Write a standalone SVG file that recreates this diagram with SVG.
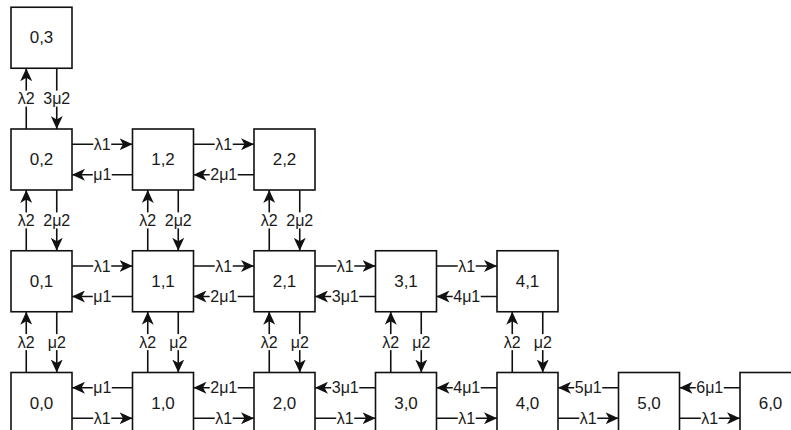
<svg xmlns="http://www.w3.org/2000/svg" width="791" height="430" viewBox="0 0 791 430">
  <style>
    .node rect { fill: #ffffff; stroke: #111111; stroke-width: 1.6; }
    .node text { font-family: "Liberation Sans", Arial, sans-serif; font-size: 17px; fill: #1a1a1a; text-anchor: middle; dominant-baseline: central; }
    .edge line { stroke: #111111; stroke-width: 1.6; marker-end: url(#arrow); }
    .edge rect { fill: #ffffff; stroke: none; }
    .edge text { font-family: "Liberation Sans", Arial, sans-serif; font-size: 16px; fill: #1a1a1a; text-anchor: middle; dominant-baseline: central; }
  </style>
  <defs>
    <marker id="arrow" viewBox="0 0 13 12" refX="13" refY="6" markerWidth="13" markerHeight="12" markerUnits="userSpaceOnUse" orient="auto">
      <path d="M0,0 L13,6 L0,12 L3.5,6 Z" fill="#111111"/>
    </marker>
  </defs>
  <rect width="791" height="430" fill="#ffffff"/>

  <!-- connectors: transitions between states -->
  <g id="connectors">
    <!-- row 2 horizontal -->
    <g class="edge"><line x1="72" y1="144.25" x2="132.5" y2="144.25"/><rect x="93.25" y="136.25" width="18" height="16"/><text x="102.25" y="144.25">λ1</text></g>
    <g class="edge"><line x1="132.5" y1="174.75" x2="72" y2="174.75"/><rect x="92.75" y="166.75" width="19" height="16"/><text x="102.25" y="174.75">μ1</text></g>
    <g class="edge"><line x1="193.5" y1="144.25" x2="254" y2="144.25"/><rect x="214.75" y="136.25" width="18" height="16"/><text x="223.75" y="144.25">λ1</text></g>
    <g class="edge"><line x1="254" y1="174.75" x2="193.5" y2="174.75"/><rect x="209.75" y="166.75" width="28" height="16"/><text x="223.75" y="174.75">2μ1</text></g>

    <!-- row 1 horizontal -->
    <g class="edge"><line x1="72" y1="266" x2="132.5" y2="266"/><rect x="93.25" y="258" width="18" height="16"/><text x="102.25" y="266">λ1</text></g>
    <g class="edge"><line x1="132.5" y1="296.5" x2="72" y2="296.5"/><rect x="92.75" y="288.5" width="19" height="16"/><text x="102.25" y="296.5">μ1</text></g>
    <g class="edge"><line x1="193.5" y1="266" x2="254" y2="266"/><rect x="214.75" y="258" width="18" height="16"/><text x="223.75" y="266">λ1</text></g>
    <g class="edge"><line x1="254" y1="296.5" x2="193.5" y2="296.5"/><rect x="209.75" y="288.5" width="28" height="16"/><text x="223.75" y="296.5">2μ1</text></g>
    <g class="edge"><line x1="315" y1="266" x2="375.5" y2="266"/><rect x="336.25" y="258" width="18" height="16"/><text x="345.25" y="266">λ1</text></g>
    <g class="edge"><line x1="375.5" y1="296.5" x2="315" y2="296.5"/><rect x="331.25" y="288.5" width="28" height="16"/><text x="345.25" y="296.5">3μ1</text></g>
    <g class="edge"><line x1="436.5" y1="266" x2="497" y2="266"/><rect x="457.75" y="258" width="18" height="16"/><text x="466.75" y="266">λ1</text></g>
    <g class="edge"><line x1="497" y1="296.5" x2="436.5" y2="296.5"/><rect x="452.75" y="288.5" width="28" height="16"/><text x="466.75" y="296.5">4μ1</text></g>

    <!-- row 0 horizontal -->
    <g class="edge"><line x1="132.5" y1="387.75" x2="72" y2="387.75"/><rect x="92.75" y="379.75" width="19" height="16"/><text x="102.25" y="387.75">μ1</text></g>
    <g class="edge"><line x1="72" y1="418.25" x2="132.5" y2="418.25"/><rect x="93.25" y="410.25" width="18" height="16"/><text x="102.25" y="418.25">λ1</text></g>
    <g class="edge"><line x1="254" y1="387.75" x2="193.5" y2="387.75"/><rect x="209.75" y="379.75" width="28" height="16"/><text x="223.75" y="387.75">2μ1</text></g>
    <g class="edge"><line x1="193.5" y1="418.25" x2="254" y2="418.25"/><rect x="214.75" y="410.25" width="18" height="16"/><text x="223.75" y="418.25">λ1</text></g>
    <g class="edge"><line x1="375.5" y1="387.75" x2="315" y2="387.75"/><rect x="331.25" y="379.75" width="28" height="16"/><text x="345.25" y="387.75">3μ1</text></g>
    <g class="edge"><line x1="315" y1="418.25" x2="375.5" y2="418.25"/><rect x="336.25" y="410.25" width="18" height="16"/><text x="345.25" y="418.25">λ1</text></g>
    <g class="edge"><line x1="497" y1="387.75" x2="436.5" y2="387.75"/><rect x="452.75" y="379.75" width="28" height="16"/><text x="466.75" y="387.75">4μ1</text></g>
    <g class="edge"><line x1="436.5" y1="418.25" x2="497" y2="418.25"/><rect x="457.75" y="410.25" width="18" height="16"/><text x="466.75" y="418.25">λ1</text></g>
    <g class="edge"><line x1="618.5" y1="387.75" x2="558" y2="387.75"/><rect x="574.25" y="379.75" width="28" height="16"/><text x="588.25" y="387.75">5μ1</text></g>
    <g class="edge"><line x1="558" y1="418.25" x2="618.5" y2="418.25"/><rect x="579.25" y="410.25" width="18" height="16"/><text x="588.25" y="418.25">λ1</text></g>
    <g class="edge"><line x1="740" y1="387.75" x2="679.5" y2="387.75"/><rect x="695.75" y="379.75" width="28" height="16"/><text x="709.75" y="387.75">6μ1</text></g>
    <g class="edge"><line x1="679.5" y1="418.25" x2="740" y2="418.25"/><rect x="700.75" y="410.25" width="18" height="16"/><text x="709.75" y="418.25">λ1</text></g>

    <!-- vertical: row 2 to row 3 -->
    <g class="edge"><line x1="26.25" y1="129" x2="26.25" y2="68.25"/><rect x="17.25" y="90.6" width="18" height="16"/><text x="26.25" y="98.6">λ2</text></g>
    <g class="edge"><line x1="56.75" y1="68.25" x2="56.75" y2="129"/><rect x="42.75" y="90.6" width="28" height="16"/><text x="56.75" y="98.6">3μ2</text></g>

    <!-- vertical: row 1 to row 2 -->
    <g class="edge"><line x1="26.25" y1="250.75" x2="26.25" y2="190"/><rect x="17.25" y="212.4" width="18" height="16"/><text x="26.25" y="220.4">λ2</text></g>
    <g class="edge"><line x1="56.75" y1="190" x2="56.75" y2="250.75"/><rect x="42.75" y="212.4" width="28" height="16"/><text x="56.75" y="220.4">2μ2</text></g>
    <g class="edge"><line x1="147.75" y1="250.75" x2="147.75" y2="190"/><rect x="138.75" y="212.4" width="18" height="16"/><text x="147.75" y="220.4">λ2</text></g>
    <g class="edge"><line x1="178.25" y1="190" x2="178.25" y2="250.75"/><rect x="164.25" y="212.4" width="28" height="16"/><text x="178.25" y="220.4">2μ2</text></g>
    <g class="edge"><line x1="269.25" y1="250.75" x2="269.25" y2="190"/><rect x="260.25" y="212.4" width="18" height="16"/><text x="269.25" y="220.4">λ2</text></g>
    <g class="edge"><line x1="299.75" y1="190" x2="299.75" y2="250.75"/><rect x="285.75" y="212.4" width="28" height="16"/><text x="299.75" y="220.4">2μ2</text></g>

    <!-- vertical: row 0 to row 1 -->
    <g class="edge"><line x1="26.25" y1="372.5" x2="26.25" y2="311.75"/><rect x="17.25" y="334.1" width="18" height="16"/><text x="26.25" y="342.1">λ2</text></g>
    <g class="edge"><line x1="56.75" y1="311.75" x2="56.75" y2="372.5"/><rect x="47.25" y="334.1" width="19" height="16"/><text x="56.75" y="342.1">μ2</text></g>
    <g class="edge"><line x1="147.75" y1="372.5" x2="147.75" y2="311.75"/><rect x="138.75" y="334.1" width="18" height="16"/><text x="147.75" y="342.1">λ2</text></g>
    <g class="edge"><line x1="178.25" y1="311.75" x2="178.25" y2="372.5"/><rect x="168.75" y="334.1" width="19" height="16"/><text x="178.25" y="342.1">μ2</text></g>
    <g class="edge"><line x1="269.25" y1="372.5" x2="269.25" y2="311.75"/><rect x="260.25" y="334.1" width="18" height="16"/><text x="269.25" y="342.1">λ2</text></g>
    <g class="edge"><line x1="299.75" y1="311.75" x2="299.75" y2="372.5"/><rect x="290.25" y="334.1" width="19" height="16"/><text x="299.75" y="342.1">μ2</text></g>
    <g class="edge"><line x1="390.75" y1="372.5" x2="390.75" y2="311.75"/><rect x="381.75" y="334.1" width="18" height="16"/><text x="390.75" y="342.1">λ2</text></g>
    <g class="edge"><line x1="421.25" y1="311.75" x2="421.25" y2="372.5"/><rect x="411.75" y="334.1" width="19" height="16"/><text x="421.25" y="342.1">μ2</text></g>
    <g class="edge"><line x1="512.25" y1="372.5" x2="512.25" y2="311.75"/><rect x="503.25" y="334.1" width="18" height="16"/><text x="512.25" y="342.1">λ2</text></g>
    <g class="edge"><line x1="542.75" y1="311.75" x2="542.75" y2="372.5"/><rect x="533.25" y="334.1" width="19" height="16"/><text x="542.75" y="342.1">μ2</text></g>
  </g>

  <!-- state nodes -->
  <g id="n03" class="node"><rect x="11" y="7.25" width="61" height="61"/><text x="41.5" y="37.75">0,3</text></g>

  <g id="n02" class="node"><rect x="11" y="129" width="61" height="61"/><text x="41.5" y="159.5">0,2</text></g>
  <g id="n12" class="node"><rect x="132.5" y="129" width="61" height="61"/><text x="163" y="159.5">1,2</text></g>
  <g id="n22" class="node"><rect x="254" y="129" width="61" height="61"/><text x="284.5" y="159.5">2,2</text></g>

  <g id="n01" class="node"><rect x="11" y="250.75" width="61" height="61"/><text x="41.5" y="281.25">0,1</text></g>
  <g id="n11" class="node"><rect x="132.5" y="250.75" width="61" height="61"/><text x="163" y="281.25">1,1</text></g>
  <g id="n21" class="node"><rect x="254" y="250.75" width="61" height="61"/><text x="284.5" y="281.25">2,1</text></g>
  <g id="n31" class="node"><rect x="375.5" y="250.75" width="61" height="61"/><text x="406" y="281.25">3,1</text></g>
  <g id="n41" class="node"><rect x="497" y="250.75" width="61" height="61"/><text x="527.5" y="281.25">4,1</text></g>

  <g id="n00" class="node"><rect x="11" y="372.5" width="61" height="61"/><text x="41.5" y="403">0,0</text></g>
  <g id="n10" class="node"><rect x="132.5" y="372.5" width="61" height="61"/><text x="163" y="403">1,0</text></g>
  <g id="n20" class="node"><rect x="254" y="372.5" width="61" height="61"/><text x="284.5" y="403">2,0</text></g>
  <g id="n30" class="node"><rect x="375.5" y="372.5" width="61" height="61"/><text x="406" y="403">3,0</text></g>
  <g id="n40" class="node"><rect x="497" y="372.5" width="61" height="61"/><text x="527.5" y="403">4,0</text></g>
  <g id="n50" class="node"><rect x="618.5" y="372.5" width="61" height="61"/><text x="649" y="403">5,0</text></g>
  <g id="n60" class="node"><rect x="740" y="372.5" width="61" height="61"/><text x="770.5" y="403">6,0</text></g>
</svg>
